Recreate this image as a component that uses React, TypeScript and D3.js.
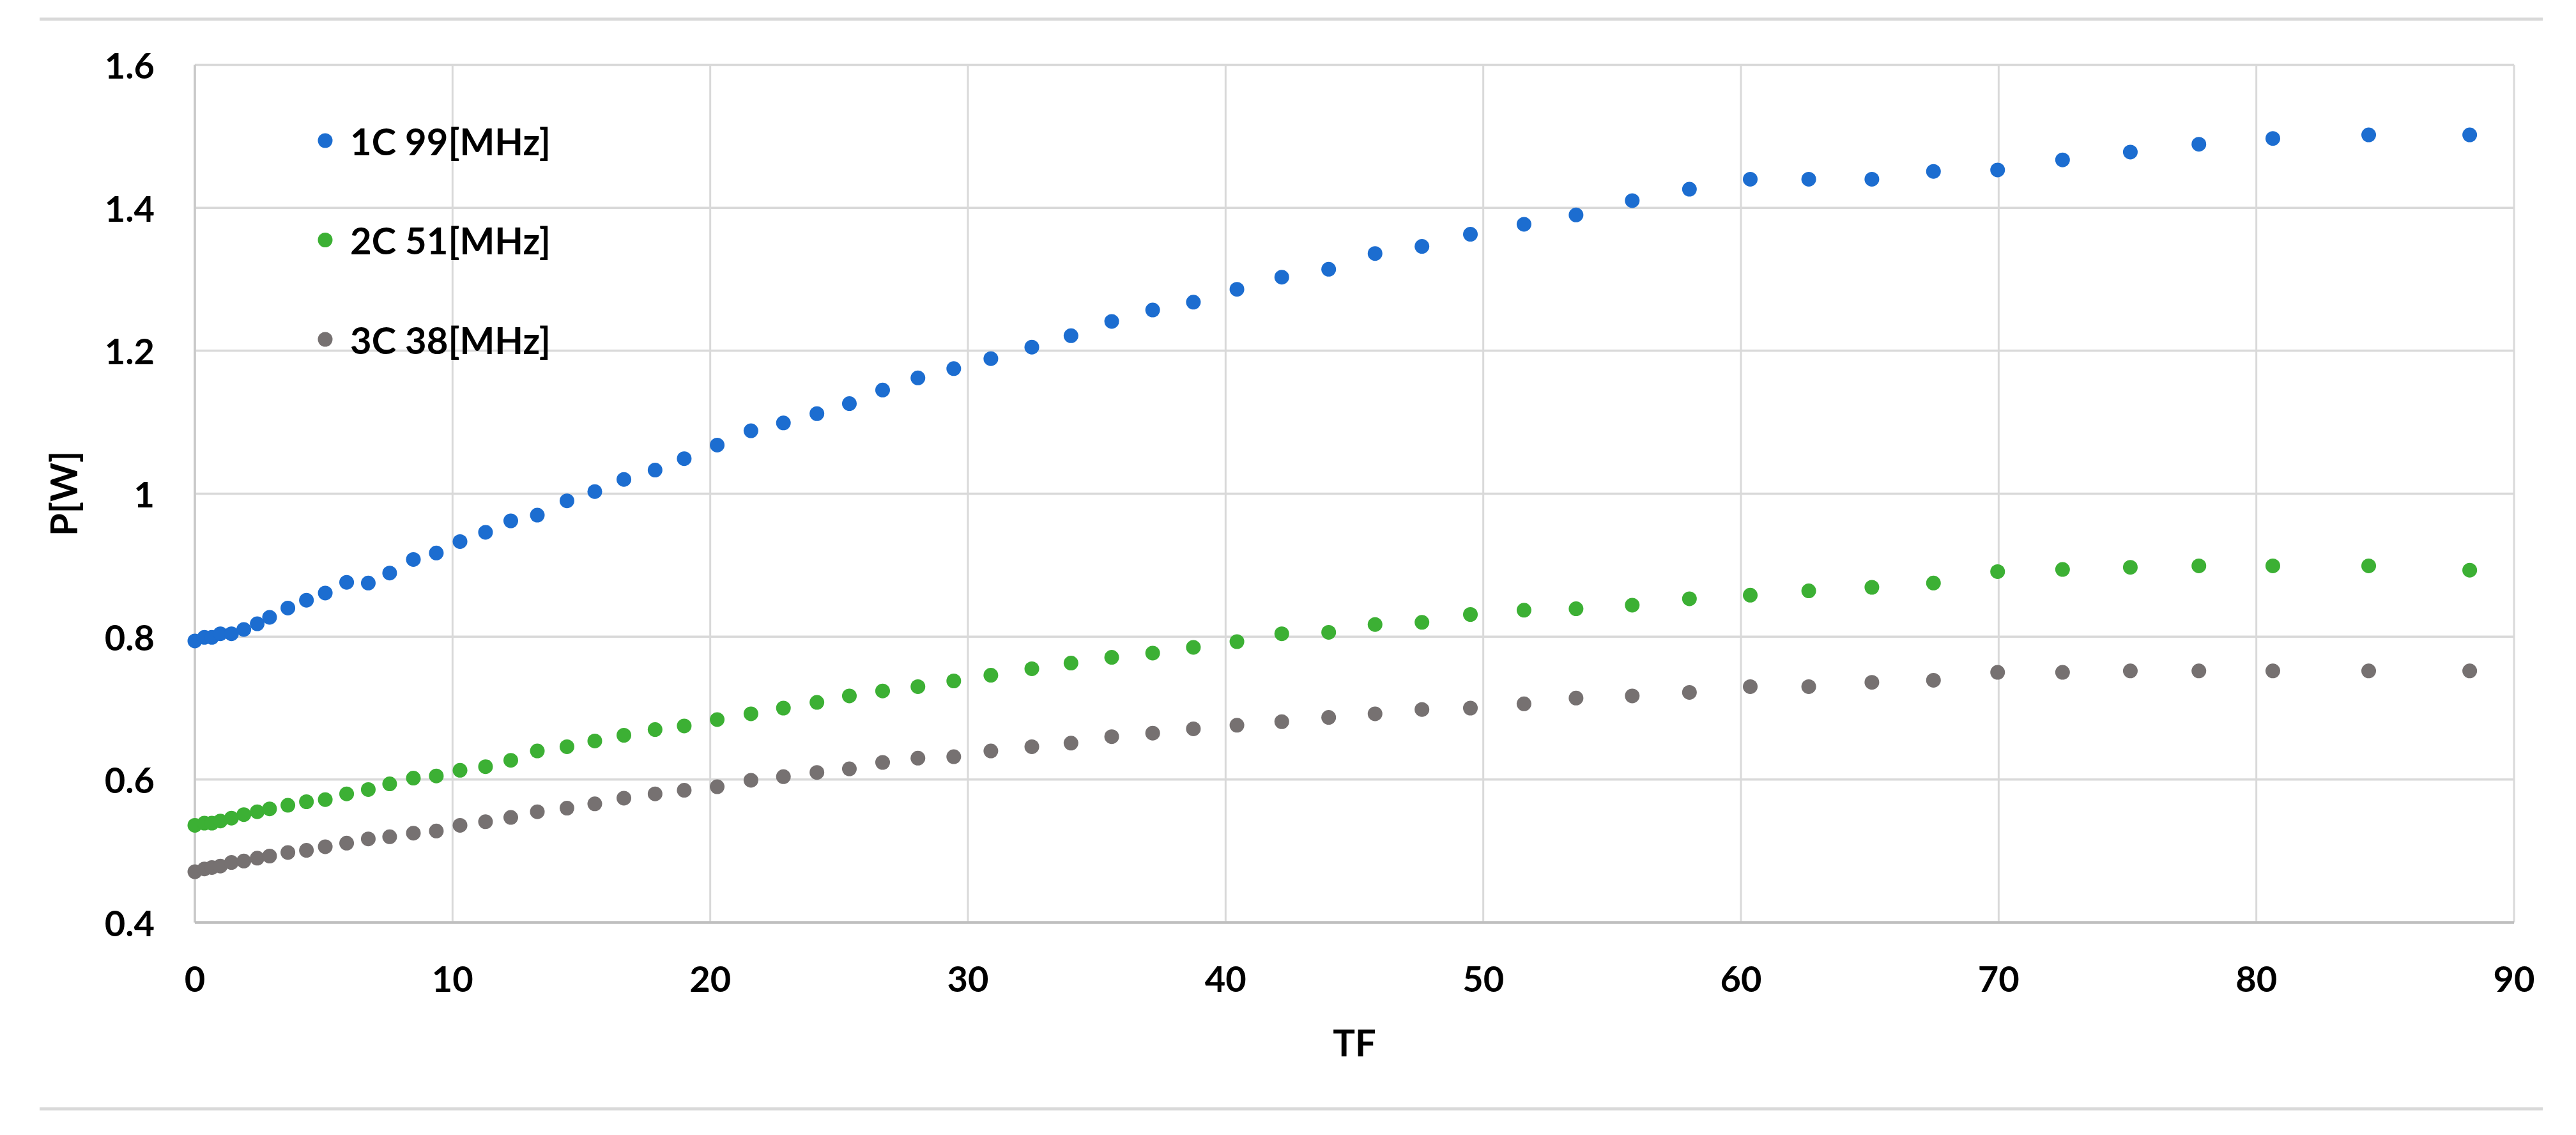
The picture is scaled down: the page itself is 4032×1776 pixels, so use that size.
import React from "react";
import * as d3 from "d3";

const tf = [0, 0.37, 0.66, 0.99, 1.42, 1.9, 2.42, 2.9, 3.61, 4.33, 5.06, 5.89, 6.73, 7.56, 8.48, 9.37, 10.29, 11.28, 12.26, 13.29, 14.44, 15.52, 16.65, 17.86, 18.99, 20.27, 21.58, 22.84, 24.14, 25.4, 26.69, 28.06, 29.45, 30.89, 32.48, 34.0, 35.58, 37.17, 38.75, 40.44, 42.18, 44.0, 45.8, 47.62, 49.5, 51.58, 53.6, 55.78, 58.0, 60.36, 62.63, 65.08, 67.47, 69.96, 72.48, 75.11, 77.77, 80.64, 84.36, 88.28];

const s1C = [0.794, 0.799, 0.799, 0.804, 0.804, 0.81, 0.818, 0.827, 0.84, 0.851, 0.861, 0.876, 0.875, 0.889, 0.908, 0.917, 0.933, 0.946, 0.962, 0.97, 0.99, 1.003, 1.02, 1.033, 1.049, 1.068, 1.088, 1.099, 1.112, 1.126, 1.145, 1.162, 1.175, 1.189, 1.205, 1.221, 1.241, 1.257, 1.268, 1.286, 1.303, 1.314, 1.336, 1.346, 1.363, 1.377, 1.39, 1.41, 1.426, 1.44, 1.44, 1.44, 1.451, 1.453, 1.467, 1.478, 1.489, 1.497, 1.502, 1.502];

const s2C = [0.536, 0.539, 0.539, 0.542, 0.546, 0.551, 0.555, 0.559, 0.564, 0.569, 0.572, 0.58, 0.586, 0.594, 0.602, 0.605, 0.613, 0.618, 0.627, 0.64, 0.646, 0.654, 0.662, 0.67, 0.675, 0.684, 0.692, 0.7, 0.708, 0.717, 0.724, 0.73, 0.738, 0.746, 0.755, 0.763, 0.771, 0.777, 0.785, 0.793, 0.804, 0.806, 0.817, 0.82, 0.831, 0.837, 0.839, 0.844, 0.853, 0.858, 0.864, 0.869, 0.875, 0.891, 0.894, 0.897, 0.899, 0.899, 0.899, 0.893];

const s3C = [0.471, 0.475, 0.477, 0.479, 0.484, 0.486, 0.49, 0.493, 0.498, 0.501, 0.506, 0.511, 0.517, 0.52, 0.525, 0.528, 0.536, 0.541, 0.547, 0.555, 0.56, 0.566, 0.574, 0.58, 0.585, 0.59, 0.599, 0.604, 0.61, 0.615, 0.624, 0.63, 0.632, 0.64, 0.646, 0.651, 0.66, 0.665, 0.671, 0.676, 0.681, 0.687, 0.692, 0.698, 0.7, 0.706, 0.714, 0.717, 0.722, 0.73, 0.73, 0.736, 0.739, 0.75, 0.75, 0.752, 0.752, 0.752, 0.752, 0.752];

const seriesNames = ["1C 99[MHz]", "2C 51[MHz]", "3C 38[MHz]"];
const seriesColors = ["#1c6dd0", "#3cb034", "#767171"];
const xTicks = [0, 10, 20, 30, 40, 50, 60, 70, 80, 90];
const yTicks = [0.4, 0.6, 0.8, 1.0, 1.2, 1.4, 1.6];
const xTitle = "TF";
const yTitle = "P[W]";

export default function App() {
  const W = 4032, H = 1776;
  const left = 305, right = 3935, top = 101.5, bottom = 1443.5;
  const x = d3.scaleLinear().domain([0, 90]).range([left, right]);
  const y = d3.scaleLinear().domain([0.4, 1.6]).range([bottom, top]);
  const series = [s1C, s2C, s3C];
  const font = "Lato, 'Noto Sans', sans-serif";
  const r = 11.5;
  const fmtY = (v: number) => (Math.abs(v - 1) < 1e-9 ? "1" : d3.format(".1f")(v));

  return (
    <svg width={W} height={H} style={{ position: "absolute", left: 0, top: 0, background: "#fff" }}>
      <rect x={0} y={0} width={W} height={H} fill="#fff" />
      <line x1={62} x2={3980} y1={30} y2={30} stroke="#d9d9d9" strokeWidth={5} />
      <line x1={62} x2={3980} y1={1735} y2={1735} stroke="#d9d9d9" strokeWidth={5} />
      {yTicks.map((t) => (
        <line key={"gy" + t} x1={left} x2={right} y1={y(t)} y2={y(t)} stroke="#d9d9d9" strokeWidth={3.5} />
      ))}
      {xTicks.map((t) => (
        <line key={"gx" + t} x1={x(t)} x2={x(t)} y1={top} y2={bottom} stroke="#d9d9d9" strokeWidth={3} />
      ))}
      <line x1={left} x2={left} y1={top} y2={bottom} stroke="#c8c8c8" strokeWidth={3.5} />
      <line x1={left} x2={right} y1={bottom} y2={bottom} stroke="#bfbfbf" strokeWidth={4.5} />
      {yTicks.map((t) => (
        <text key={"ty" + t} x={242} y={y(t)} textAnchor="end" dominantBaseline="central"
          fontFamily={font} fontWeight={700} fontSize={56} fill="#000">{fmtY(t)}</text>
      ))}
      {xTicks.map((t) => (
        <text key={"tx" + t} x={x(t)} y={1530} textAnchor="middle" dominantBaseline="central"
          fontFamily={font} fontWeight={700} fontSize={56} fill="#000">{t}</text>
      ))}
      <text x={2120} y={1630} textAnchor="middle" dominantBaseline="central"
        fontFamily={font} fontWeight={700} fontSize={58} fill="#000">{xTitle}</text>
      <text transform={`translate(98, ${(top + bottom) / 2}) rotate(-90)`} textAnchor="middle" dominantBaseline="central"
        fontFamily={font} fontWeight={700} fontSize={58} fill="#000">{yTitle}</text>
      {series.map((s, si) => (
        <g key={"s" + si}>
          {s.map((v, i) => (
            <circle key={i} cx={x(tf[i])} cy={y(v)} r={r} fill={seriesColors[si]} />
          ))}
        </g>
      ))}
      {seriesNames.map((n, i) => (
        <g key={"l" + i}>
          <circle cx={509} cy={220 + i * 155.5} r={r} fill={seriesColors[i]} />
          <text x={548} y={220 + i * 155.5} dominantBaseline="central"
            fontFamily={font} fontWeight={700} fontSize={58} fill="#000">{n}</text>
        </g>
      ))}
    </svg>
  );
}
